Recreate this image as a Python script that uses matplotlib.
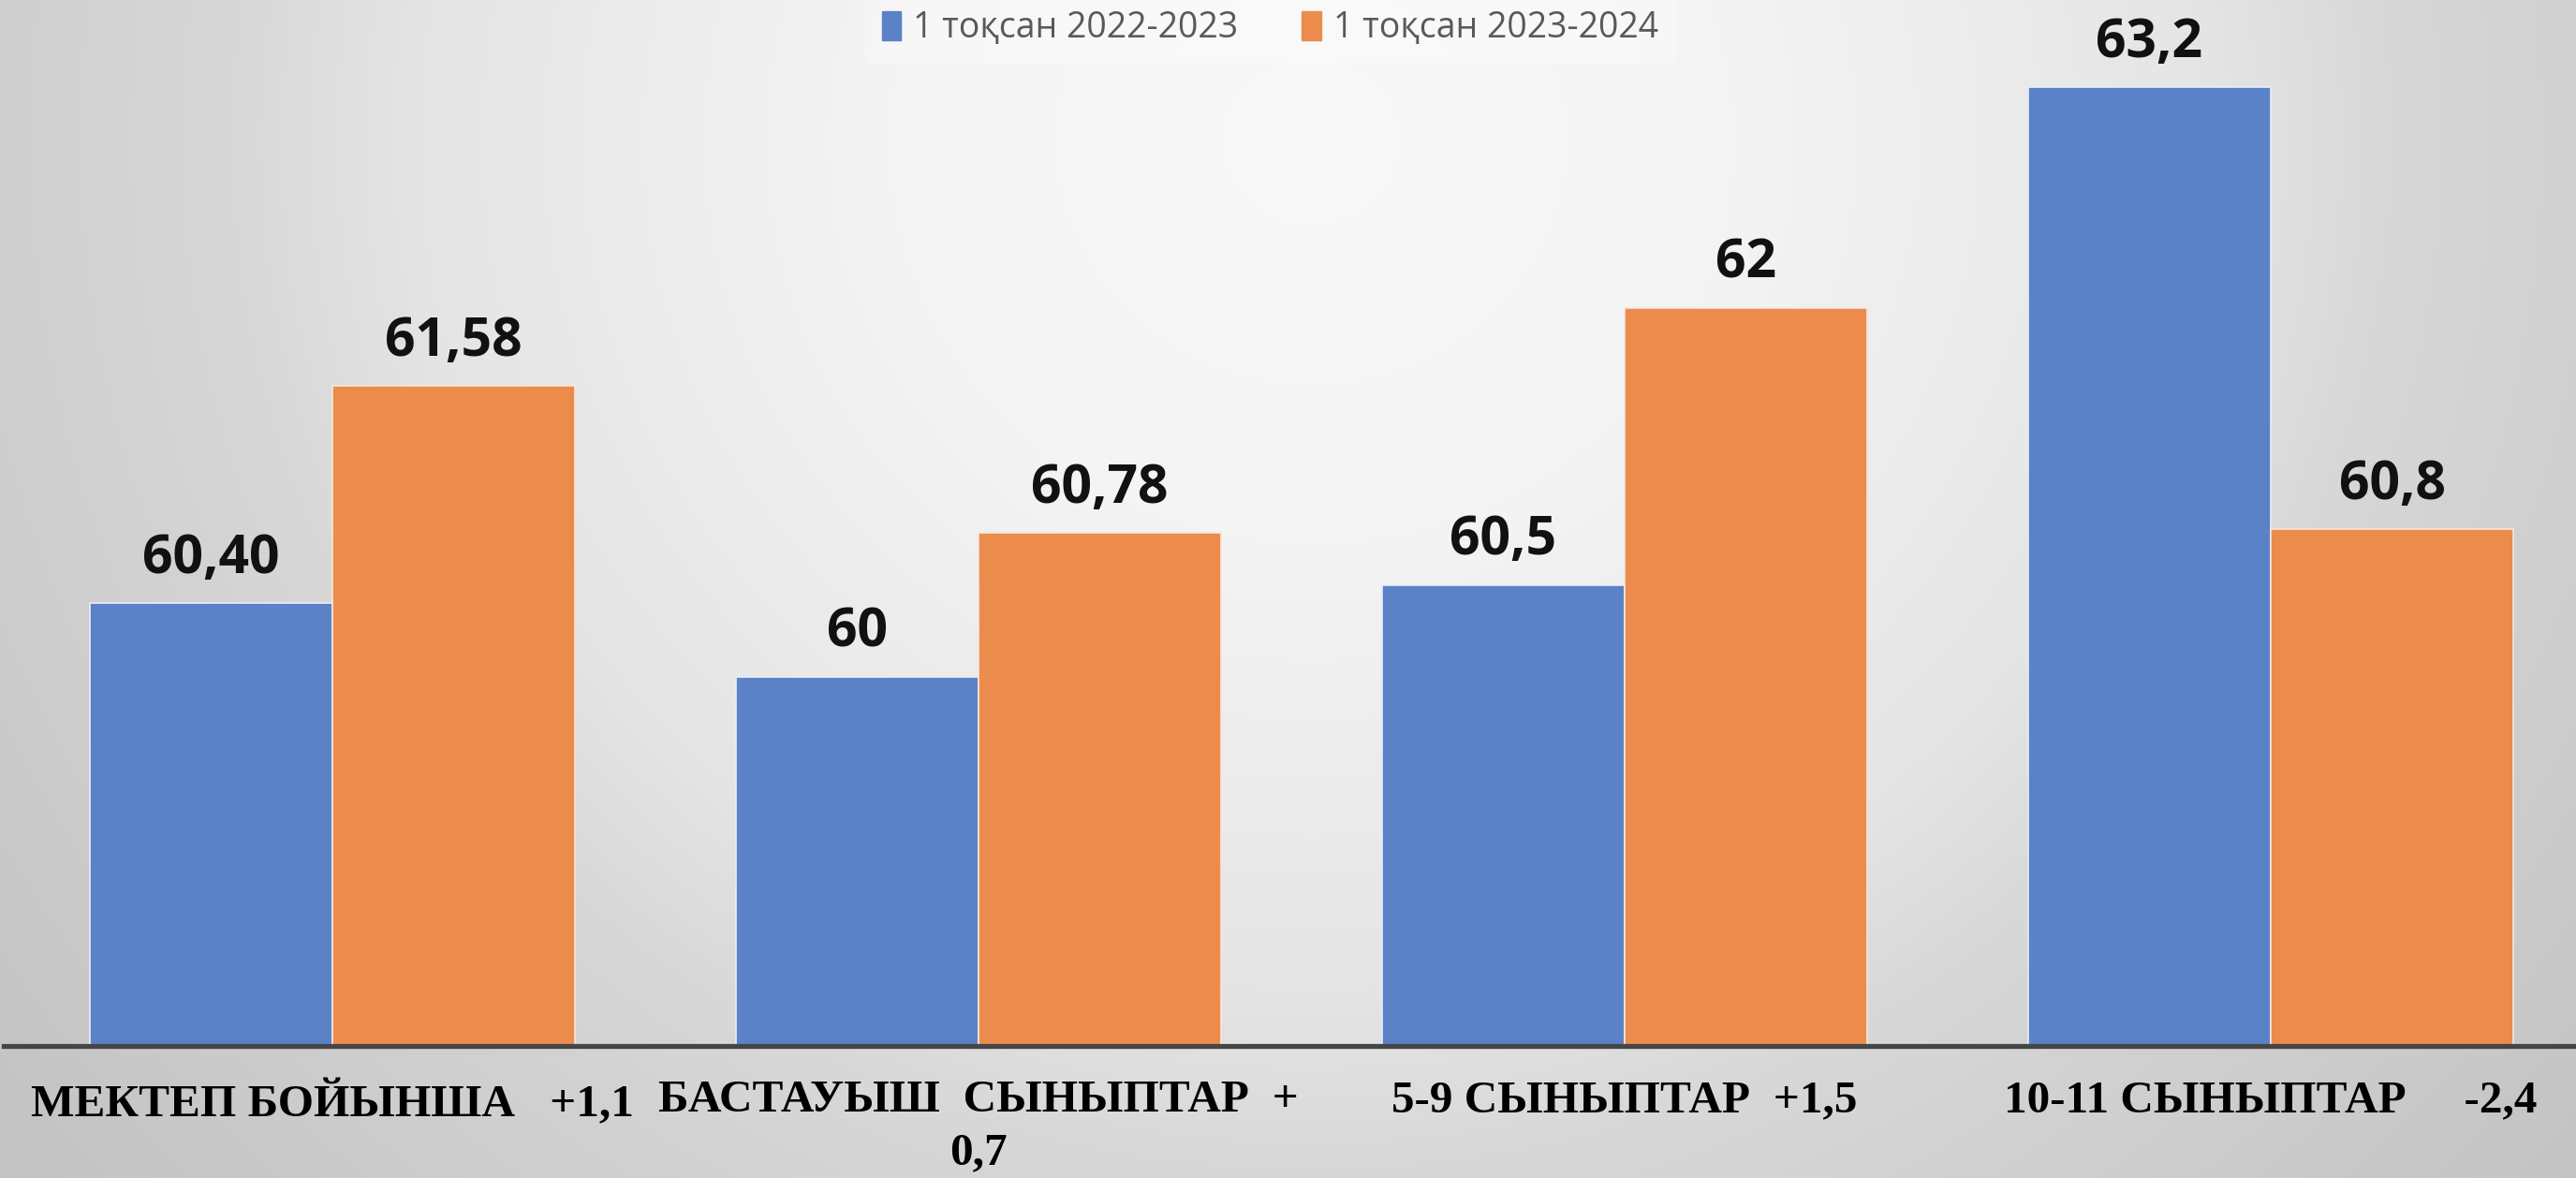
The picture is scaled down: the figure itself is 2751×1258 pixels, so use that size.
import numpy as np
import matplotlib
matplotlib.use("Agg")
import matplotlib.pyplot as plt
from matplotlib.patches import Patch


# data
categories = ["МЕКТЕП БОЙЫНША   +1,1", "БАСТАУЫШ  СЫНЫПТАР  +\n0,7",
              "5-9 СЫНЫПТАР  +1,5", "10-11 СЫНЫПТАР     -2,4"]
series_names = ["1 тоқсан 2022-2023", "1 тоқсан 2023-2024"]
values_2022 = [60.40, 60.0, 60.5, 63.2]
values_2023 = [61.58, 60.78, 62.0, 60.8]
labels_2022 = ["60,40", "60", "60,5", "63,2"]
labels_2023 = ["61,58", "60,78", "62", "60,8"]

blue = "#5b81c7"
orange = "#eb8c4d"

W, H = 2751, 1258
fig = plt.figure(figsize=(W / 100, H / 100), dpi=100)

# radial grey background, light near the top middle
bg = fig.add_axes([0, 0, 1, 1], zorder=-5)
yy, xx = np.mgrid[0:H, 0:W]
dist = np.hypot(xx - 1400, (yy - 150) * 1.05)
shade = np.interp(dist, [0, 450, 950, 1150, 1370, 1800], [249, 244, 229, 216, 208, 195]) / 255
bg.imshow(np.dstack([shade] * 3), aspect="auto", extent=[0, 1, 0, 1])
bg.axis("off")

# main axes: 690 px per category, 197 px per unit
x0 = 4 / W
bottom = (H - 1117) / H
ax = fig.add_axes([x0, bottom, 4.0087 * 690 / W, 5.6 * 197 / H])
ax.patch.set_alpha(0)

x = np.arange(len(categories))
w = 0.376
b1 = ax.bar(x - w / 2, values_2022, w, color=blue, edgecolor="#e8eef8", linewidth=1.2, label=series_names[0])
b2 = ax.bar(x + w / 2, values_2023, w, color=orange, edgecolor="#f8e6da", linewidth=1.2, label=series_names[1])

lab_font = dict(family="Open Sans", fontweight="bold", fontsize=41, color="#111111")
ax.bar_label(b1, labels=labels_2022, padding=13, **lab_font)
ax.bar_label(b2, labels=labels_2023, padding=13, **lab_font)

ax.set_xlim(-0.5087, 3.5)
ax.set_ylim(58, 63.6)
ax.set_xticks(x)
ax.set_xticklabels(categories, family="Liberation Serif", fontweight="bold", fontsize=35.5, linespacing=1.35)
ax.tick_params(axis="x", length=0, pad=26)
ax.set_yticks([])
for s in ["top", "right", "left"]:
    ax.spines[s].set_visible(False)
ax.spines["bottom"].set_color("#454545")
ax.spines["bottom"].set_linewidth(3.8)

handles = [Patch(color=blue), Patch(color=orange)]
leg = fig.legend(handles, series_names, loc="center", bbox_to_anchor=(0.493, 0.976),
                 ncol=2, frameon=True, handlelength=0.55, handleheight=0.9,
                 handletextpad=0.35, columnspacing=1.8, borderpad=0.5,
                 prop=dict(family="Open Sans", size=27))
leg.get_frame().set_facecolor("white")
leg.get_frame().set_alpha(0.3)
leg.get_frame().set_edgecolor("none")
for t in leg.get_texts():
    t.set_color("#595959")

fig.savefig("out.png", dpi=100)
